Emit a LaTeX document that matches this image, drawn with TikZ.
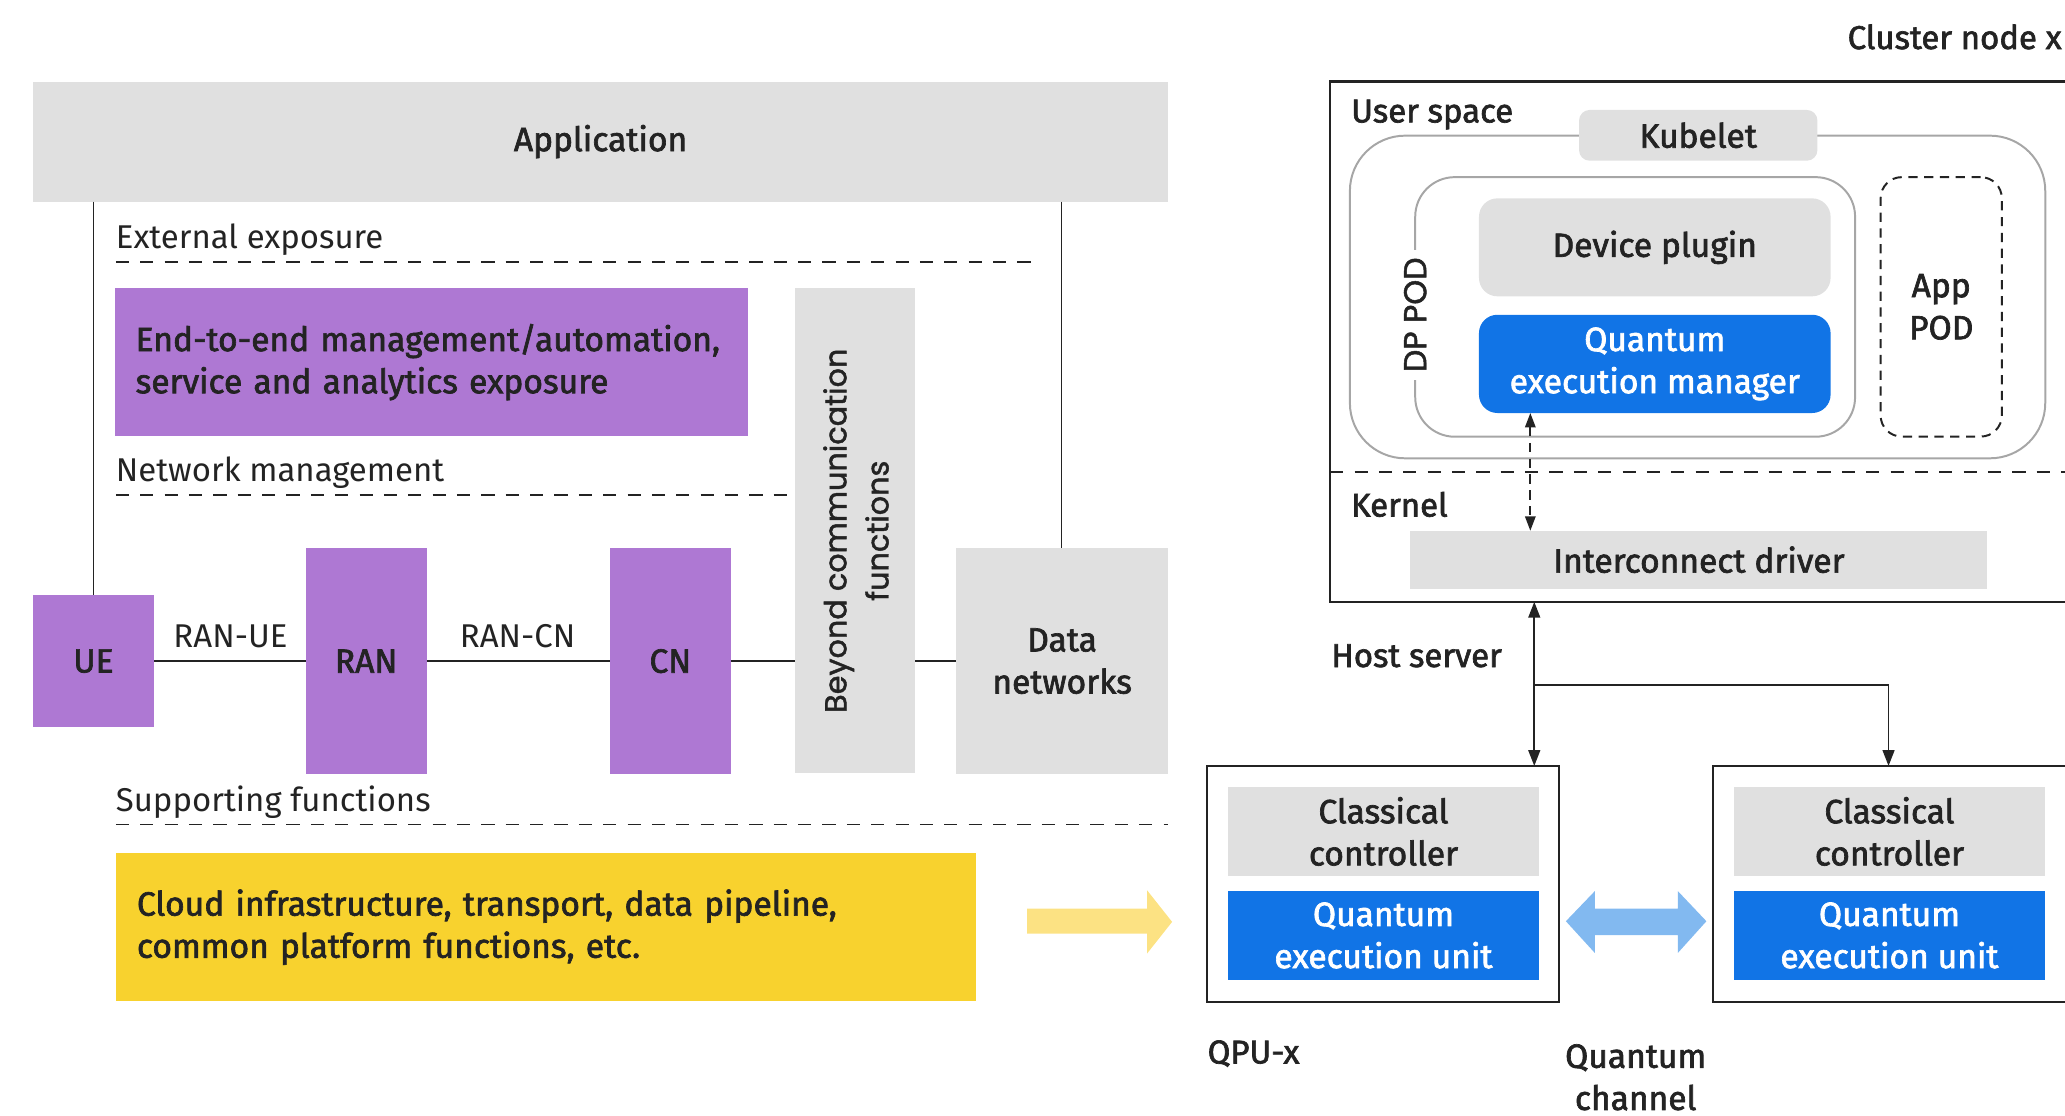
\documentclass[tikz,border=0pt]{standalone}
\usepackage{fontspec}
\setmainfont{Fira Sans}
\newfontfamily\medfont[FakeBold=2]{Fira Sans}
\newfontfamily\popfont[FakeBold=1.5]{Poppins}
\usetikzlibrary{arrows.meta,calc}
\definecolor{txt}{HTML}{232323}
\definecolor{purp}{HTML}{AE78D3}
\definecolor{lgray}{HTML}{E0E0E0}
\definecolor{yel}{HTML}{F8D22E}
\definecolor{lyel}{HTML}{FCE283}
\definecolor{qblue}{HTML}{1174E6}
\definecolor{lblue}{HTML}{82B9F0}
\definecolor{ogray}{HTML}{A6A6A6}
\tikzset{
  base/.style={inner sep=0pt, outer sep=0pt, text=txt, align=center, font=\medfont\fontsize{25.5}{32}\selectfont},
  graybox/.style={base, fill=lgray},
  purpbox/.style={base, fill=purp},
  bluebox/.style={base, fill=qblue, text=white},
  lbl/.style={inner sep=0pt, outer sep=0pt, text=txt, anchor=west, yshift=-2pt, font=\fontsize{25}{32}\selectfont},
  mlbl/.style={inner sep=0pt, outer sep=0pt, text=txt, align=center, font=\medfont\fontsize{25.5}{32}\selectfont},
  sepline/.style={draw=txt, line width=1.3pt, dash pattern=on 10pt off 8.5pt},
  conn/.style={draw=txt, line width=1.3pt},
  tip/.style={-{Triangle[length=12pt,width=9pt]}},
  frame/.style={draw=txt, line width=1.8pt, fill=none, inner sep=0pt, outer sep=0pt},
}
\begin{document}
\begin{tikzpicture}[x=1pt,y=-1pt]
\useasboundingbox (0,0) rectangle (1568,847);
% ---------------- Left part ----------------
\node[graybox, minimum width=862pt, minimum height=91pt] (app) at (456,107.5) {Application};
\coordinate (lv) at (71,153);
\coordinate (rv) at (806,153);
\node[lbl] (ext) at (88,180) {External exposure};
\coordinate (ext1) at (88,199);
\coordinate (ext2) at (790,199);
\draw[sepline] (ext1) -- (ext2);
\node[purpbox, minimum height=112pt, text width=449pt, inner xsep=16pt, align=left] (e2e) at (327.5,275) {End-to-end management/automation,\\service and analytics exposure};
\node[lbl] (nm) at (88,357) {Network management};
\coordinate (nm1) at (88,376);
\coordinate (nm2) at (604,376);
\draw[sepline] (nm1) -- (nm2);
\node[graybox, minimum width=91pt, minimum height=368pt] (beyond) at (649.5,403) {};
\node[inner sep=0pt, text=txt, align=center, rotate=90, font=\popfont\fontsize{23}{32}\selectfont] (beyondtxt) at (650,403) {Beyond communication\\functions};
\node[graybox, minimum width=161pt, minimum height=172pt] (dn) at (806.5,502) {Data\\networks};
\node[purpbox, minimum width=92pt, minimum height=100pt] (ue) at (71,502) {UE};
\node[purpbox, minimum width=92pt, minimum height=172pt] (ran) at (278,502) {RAN};
\node[purpbox, minimum width=92pt, minimum height=172pt] (cn) at (509,502) {CN};
\draw[conn] (lv) -- (ue.north);
\draw[conn] (rv) -- (rv |- dn.north);
\draw[conn] (ue.east) -- (ran.west);
\draw[conn] (ran.east) -- (cn.west);
\draw[conn] (cn.east) -- (beyond.west |- cn.east);
\draw[conn] (beyond.east |- dn.west) -- (dn.west);
\node[lbl, anchor=center] (ranue) at (175,481) {RAN-UE};
\node[lbl, anchor=center] (rancn) at (393,481) {RAN-CN};
\node[lbl] (sf) at (88,607) {Supporting functions};
\coordinate (sf1) at (88,626);
\coordinate (sf2) at (887,626);
\draw[sepline] (sf1) -- (sf2);
\node[base, fill=yel, minimum height=112pt, text width=621pt, inner xsep=16pt, align=left] (cloud) at (414.5,704) {Cloud infrastructure, transport, data pipeline,\\common platform functions, etc.};
\fill[lyel] (780,690) -- (871,690) -- (871,676) -- (890,700) -- (871,724) -- (871,709) -- (780,709) -- cycle;
% ---------------- Right part ----------------
\node[lbl] (cnx) at (1403,26) {\medfont Cluster node x};
\node[frame, minimum width=565pt, minimum height=395pt] (cluster) at (1292.5,259.5) {};
\node[lbl] (us) at (1026,85) {\medfont User space};
\draw[ogray, line width=1.5pt, rounded corners=42pt] (1025,103) rectangle (1553,348);
\node[graybox, rounded corners=8pt, minimum width=181pt, minimum height=38.5pt] (kub) at (1289.5,102.75) {Kubelet};
\draw[ogray, line width=1.5pt, rounded corners=30pt] (1074.6,134.5) rectangle (1408.6,331.6);
\node[fill=white, inner xsep=6pt, inner ysep=2pt, text=txt, rotate=90, font=\popfont\fontsize{24}{26}\selectfont] (dppod) at (1074.6,239) {DP POD};
\node[graybox, rounded corners=14pt, minimum width=267pt, minimum height=74.4pt] (dp) at (1256.5,187.8) {Device plugin};
\node[bluebox, rounded corners=14pt, minimum width=267pt, minimum height=74.6pt] (qem) at (1256.5,276.3) {Quantum\\execution manager};
\node[base, draw=txt, line width=1.5pt, dash pattern=on 7pt off 5pt, rounded corners=16pt, minimum width=92pt, minimum height=197pt] (apppod) at (1474,233) {App\\POD};
\coordinate (k1) at (1010,358.6);
\coordinate (k2) at (1575,358.6);
\draw[sepline] (k1) -- (k2);
\node[lbl] (kern) at (1026,381) {\medfont Kernel};
\node[graybox, minimum width=438pt, minimum height=44pt] (icd) at (1290,425) {Interconnect driver};
\coordinate (dx) at (1162,0);
\draw[conn, dash pattern=on 7pt off 5pt, {Triangle[length=11pt,width=8pt]}-{Triangle[length=11pt,width=8pt]}] (qem.south -| dx) -- (icd.north -| dx);
% QPUs
\node[frame, minimum width=267.4pt, minimum height=179.4pt] (qpu1) at (1050.3,671.3) {};
\node[graybox, minimum width=236pt, minimum height=67.4pt] (cc1) at (1050.5,631.3) {Classical\\controller};
\node[bluebox, minimum width=236pt, minimum height=67.4pt] (qeu1) at (1050.5,710.3) {Quantum\\execution unit};
\node[frame, minimum width=274.4pt, minimum height=179.4pt] (qpu2) at (1437.8,671.3) {};
\node[graybox, minimum width=236.2pt, minimum height=67.4pt] (cc2) at (1434.7,631.3) {Classical\\controller};
\node[bluebox, minimum width=236.2pt, minimum height=67.4pt] (qeu2) at (1434.7,710.3) {Quantum\\execution unit};
\coordinate (hx) at (1165,0);
\coordinate (br) at (1165,520);
\coordinate (q2x) at (1434,0);
\draw[conn, {Triangle[length=12pt,width=9pt]}-{Triangle[length=12pt,width=9pt]}] (cluster.south -| hx) -- (qpu1.north -| hx);
\draw[conn, tip] (br) -| (qpu2.north -| q2x);
\node[lbl] (hs) at (1011,496) {\medfont Host server};
\fill[lblue] (1189,699.5) -- (1211,676.6) -- (1211,690) -- (1274,690) -- (1274,676.6) -- (1295.7,699.5) -- (1274,723.6) -- (1274,710) -- (1211,710) -- (1211,723.6) -- cycle;
\node[lbl] (qpux) at (917,798) {\medfont QPU-x};
\node[mlbl] (qch) at (1242,818) {Quantum\\channel};
\end{tikzpicture}
\end{document}
